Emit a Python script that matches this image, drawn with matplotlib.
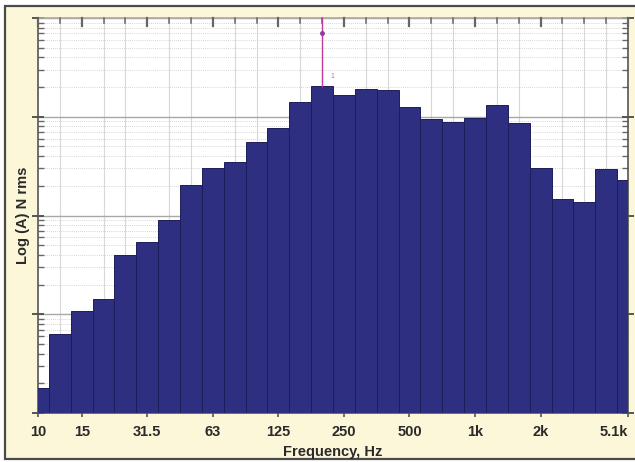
import matplotlib
matplotlib.use("Agg")
import matplotlib.pyplot as plt
from matplotlib.patches import Rectangle
from matplotlib.ticker import LogLocator, NullFormatter
import numpy as np

# 1/3-octave band centres (Hz) and band levels
bands = ["10", "12.5", "16", "20", "25", "31.5", "40", "50", "63", "80",
         "100", "125", "160", "200", "250", "315", "400", "500", "630", "800",
         "1k", "1.25k", "1.6k", "2k", "2.5k", "3.15k", "4k", "5k"]
levels = [0.00178, 0.0063, 0.0108, 0.0143, 0.040, 0.0534, 0.0907, 0.205,
          0.303, 0.346, 0.551, 0.771, 1.42, 2.07, 1.68, 1.92, 1.86, 1.25,
          0.94, 0.887, 0.966, 1.30, 0.867, 0.303, 0.148, 0.137, 0.296, 0.231]

tick_bands = ["10", "16", "31.5", "63", "125", "250", "500", "1k", "2k", "5k"]
tick_labels = ["10", "15", "31.5", "63", "125", "250", "500", "1k", "2k", "5.1k"]
cursor_band = "200"

plt.rcParams["font.family"] = ["Liberation Sans", "DejaVu Sans"]

W, H = 635, 462
fig = plt.figure(figsize=(W / 100, H / 100), dpi=100, facecolor="white")

# cream panel with dark frame
panel = Rectangle((5 / W, 3 / H), 640 / W, 453 / H, transform=fig.transFigure,
                  facecolor="#fcf7d8", edgecolor="#4a4a4a", linewidth=1.6,
                  zorder=-5)
fig.patches.append(panel)

ax = fig.add_axes([38 / W, 1 - 413 / H, 590 / W, 395 / H], zorder=2)
ax.set_facecolor("white")

floor = 1e-3
x = np.arange(len(bands))
ax.bar(x, np.array(levels) - floor, width=1.0, bottom=floor, color="#2e2f80",
       edgecolor="#1d1d5a", linewidth=0.7, zorder=3)

ax.set_yscale("log")
ax.set_ylim(floor, 10)
ax.set_xlim(0, len(bands) - 1)

# grid
ax.set_xticks(x, minor=True)
ax.grid(which="minor", axis="x", color="#d8d8d8", linewidth=0.8, zorder=0)
ax.grid(which="major", axis="y", color="#a8a8a8", linewidth=1.0, zorder=1)
ax.yaxis.set_minor_locator(LogLocator(base=10, subs=np.arange(2, 10)))
ax.yaxis.set_minor_formatter(NullFormatter())
ax.grid(which="minor", axis="y", color="#c8c8c8", linewidth=0.6,
        linestyle=(0, (1, 1.5)), zorder=1)

tick_pos = [bands.index(b) for b in tick_bands]
ax.set_xticks(tick_pos)
ax.set_xticklabels(tick_labels, fontsize=10.5, color="#2a2a2a",
                   fontweight="bold")
ax.get_xticklabels()[-1].set_horizontalalignment("right")
ax.tick_params(axis="x", which="major", direction="out", length=3,
               width=1.2, color="#555555", pad=6)
ax.tick_params(axis="x", which="minor", length=0)
ax.tick_params(axis="y", which="major", direction="inout", length=9,
               width=1.4, color="#555555", labelleft=False, right=True)
ax.tick_params(axis="y", which="minor", direction="in", length=4,
               width=1.0, color="#666666", right=True)

# inward ticks along the top edge at every band
for i in x:
    major = i in tick_pos
    ax.plot([i, i], [10, 10 ** (1 - (0.08 if major else 0.05))],
            color="#666666", lw=1.6 if major else 1.1, zorder=5,
            clip_on=False)

for side in ["left", "right", "bottom", "top"]:
    ax.spines[side].set_color("#555555")
    ax.spines[side].set_linewidth(1.2)
ax.spines["top"].set_color("#aaaaaa")

# cursor marker on the peak band
ci = bands.index(cursor_band)
ax.plot([ci, ci], [levels[ci], 10], color="#c03c9c", lw=1.0, zorder=6)
ax.plot([ci], [10 ** 0.85], marker="o", ms=2.5, color="#8a3aa0", zorder=7)
ax.text(ci + 0.4, levels[ci] * 1.2, "1", color="#d060b0", fontsize=5,
        zorder=7)

ax.set_xlabel("Frequency, Hz", fontsize=10.5, color="#2a2a2a",
              fontweight="bold", labelpad=4)
ax.set_ylabel("Log (A) N rms", fontsize=10.5, color="#2a2a2a",
              fontweight="bold", labelpad=1)

fig.savefig("out.png", dpi=100, facecolor="white")
